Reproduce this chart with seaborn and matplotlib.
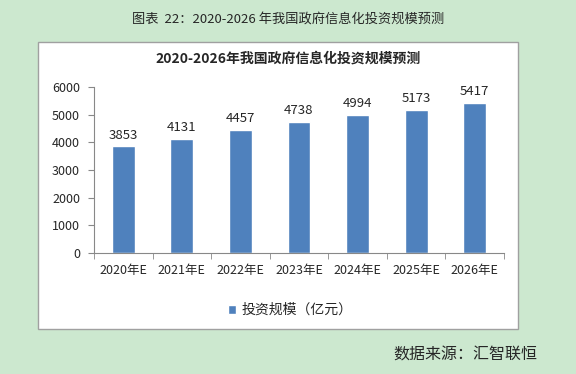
import matplotlib
matplotlib.use("Agg")
import matplotlib.pyplot as plt
import seaborn as sns
import pandas as pd
from matplotlib.patches import Rectangle

years = ["2020年E", "2021年E", "2022年E", "2023年E", "2024年E", "2025年E", "2026年E"]
invest = [3853, 4131, 4457, 4738, 4994, 5173, 5417]
yticks = [0, 1000, 2000, 3000, 4000, 5000, 6000]

sns.set_style("white")
plt.rcParams['font.family'] = ['Noto Sans CJK SC', 'DejaVu Sans']

bg = "#cce8cf"
bar_color = "#4f81bd"

fig = plt.figure(figsize=(5.76, 3.74), dpi=100, facecolor=bg)

# white chart area
box = Rectangle((38 / 576, 1 - 329 / 374), 480 / 576, 287 / 374,
                transform=fig.transFigure, facecolor="white",
                edgecolor="#a0a0a0", linewidth=1.0, zorder=-1)
fig.patches.append(box)

ax = fig.add_axes([94 / 576, 1 - 253 / 374, 410 / 576, 166 / 374])
ax.set_zorder(2)
ax.patch.set_alpha(0)

df = pd.DataFrame({"year": years, "value": invest})
sns.barplot(data=df, x="year", y="value", color=bar_color, saturation=1,
            width=0.39, ax=ax, label="投资规模（亿元）")

for i, v in enumerate(invest):
    ax.text(i, v + 170, str(v), ha="center", va="bottom", fontsize=9.5)

ax.set_ylim(0, 6000)
ax.set_xlim(-0.5, len(years) - 0.5)
ax.set_yticks(yticks)
ax.set_yticklabels([str(t) for t in yticks], fontsize=9)
ax.set_xlabel("")
ax.set_ylabel("")
ax.tick_params(axis="x", length=0, labelsize=9, pad=8)
ax.set_xticks([i - 0.5 for i in range(len(years) + 1)], minor=True)
ax.tick_params(axis="x", which="minor", length=4, color="#888888", direction="out", bottom=True)
ax.tick_params(axis="y", length=4, color="#888888", direction="out", left=True, pad=6)

for s in ["top", "right"]:
    ax.spines[s].set_visible(False)
for s in ["left", "bottom"]:
    ax.spines[s].set_color("#888888")
    ax.spines[s].set_linewidth(0.8)

ax.legend(loc="center", bbox_to_anchor=(290 / 576, 1 - 310 / 374),
          bbox_transform=fig.transFigure, frameon=False, fontsize=10,
          handlelength=0.6, handleheight=0.6, handletextpad=0.4)

fig.text(0.5, 1 - 59 / 374, "2020-2026年我国政府信息化投资规模预测",
         ha="center", va="center", fontsize=10, fontweight="bold")
fig.text(0.5, 1 - 19 / 374, "图表  22：2020-2026 年我国政府信息化投资规模预测",
         ha="center", va="center", fontsize=9.5)
fig.text(537 / 576, 1 - 355 / 374, "数据来源：汇智联恒",
         ha="right", va="center", fontsize=11.5)

fig.savefig("out.png", dpi=100, facecolor=bg)
